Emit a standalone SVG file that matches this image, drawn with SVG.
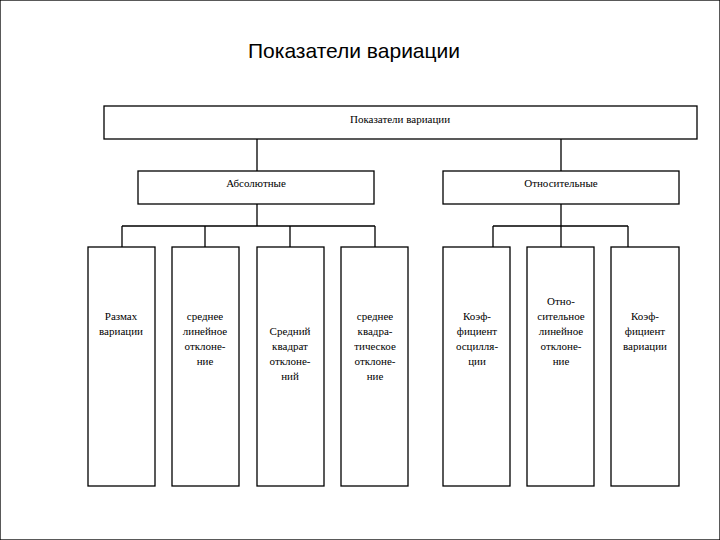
<svg xmlns="http://www.w3.org/2000/svg" width="720" height="540" viewBox="0 0 720 540">
<style>
rect{fill:#fff;stroke:#000;stroke-width:1.3}
.c{fill:none;stroke:#000;stroke-width:1.3}
text{font-family:"Liberation Serif",serif;font-size:11px;text-anchor:middle;fill:#000}
.t{font-family:"Liberation Sans",sans-serif;font-size:21px}
</style>
<rect width="720" height="540" fill="#fff" stroke="none"/>
<text class="t" x="354" y="58">Показатели вариации</text>
<g id="connectors">
<path class="c" d="M257 139V171M561 139V171M257 204V226M122 226H375M122 226V247M205 226V247M290 226V247M375 226V247M561 204V247M493 226H628M493 226V247M628 226V247"/>
</g>
<g id="root"><rect x="104" y="106" width="593" height="33"/><text x="400" y="123">Показатели вариации</text></g>
<g id="abs"><rect x="138" y="171" width="236" height="33"/><text x="256" y="187">Абсолютные</text></g>
<g id="rel"><rect x="443" y="171" width="236" height="33"/><text x="561" y="187">Относительные</text></g>
<g id="n1"><rect x="88" y="247" width="67" height="239"/><text x="121" y="320">Размах</text><text x="121" y="335">вариации</text></g>
<g id="n2"><rect x="172" y="247" width="67" height="239"/><text x="205" y="320">среднее</text><text x="205" y="335">линейное</text><text x="205" y="350">отклоне-</text><text x="205" y="365">ние</text></g>
<g id="n3"><rect x="257" y="247" width="67" height="239"/><text x="290" y="335">Средний</text><text x="290" y="350">квадрат</text><text x="290" y="365">отклоне-</text><text x="290" y="380">ний</text></g>
<g id="n4"><rect x="341" y="247" width="67" height="239"/><text x="375" y="320">среднее</text><text x="375" y="335">квадра-</text><text x="375" y="350">тическое</text><text x="375" y="365">отклоне-</text><text x="375" y="380">ние</text></g>
<g id="n5"><rect x="443" y="247" width="67" height="239"/><text x="477" y="320">Коэф-</text><text x="477" y="335">фициент</text><text x="477" y="350">осцилля-</text><text x="477" y="365">ции</text></g>
<g id="n6"><rect x="527" y="247" width="67" height="239"/><text x="561" y="305">Отно-</text><text x="561" y="320">сительное</text><text x="561" y="335">линейное</text><text x="561" y="350">отклоне-</text><text x="561" y="365">ние</text></g>
<g id="n7"><rect x="611" y="247" width="68" height="239"/><text x="645" y="320">Коэф-</text><text x="645" y="335">фициент</text><text x="645" y="350">вариации</text></g>
</svg>
